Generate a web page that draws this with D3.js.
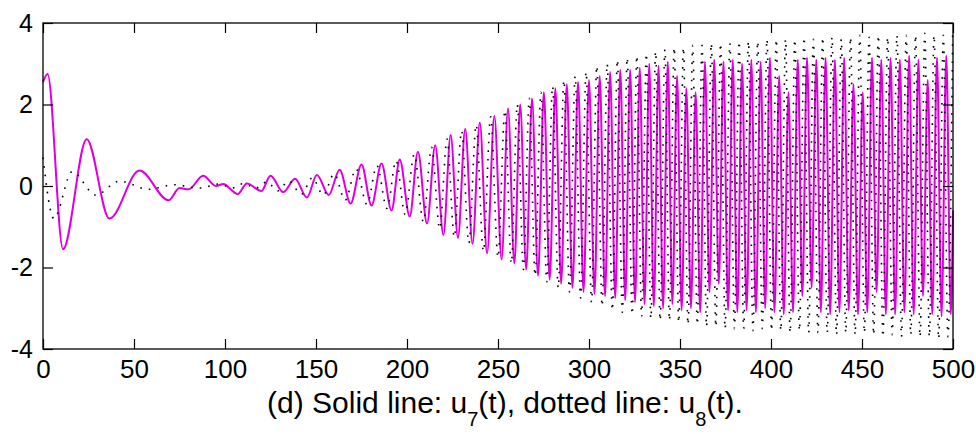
<!DOCTYPE html>
<html>
<head>
<meta charset="utf-8">
<script src="https://cdn.jsdelivr.net/npm/d3@7"></script>
<style>
  body { margin: 0; background: #fff; }
  svg { display: block; }
</style>
</head>
<body>
<svg width="976" height="434"></svg>
<script>
// extrema [t, value], solid line u7(t)
const u7Points = [
  [0, 2.55], [2.5, 2.75], [11, -1.55], [24, 1.15], [36.5, -0.8], [53, 0.38], [69, -0.35], [75, -0.05],
  [80, -0.08], [88, 0.25], [95, 0.0], [99, 0.05], [107, -0.2], [112, 0.06], [120, -0.12], [125, 0.25],
  [132, -0.15], [138.5, 0.18], [145, -0.28], [150.5, 0.27], [157, -0.22], [163, 0.4], [169, -0.43], [175, 0.53],
  [180.5, -0.48], [186, 0.55], [191.5, -0.6], [196, 0.65], [201.5, -0.75], [206, 0.84], [211, -0.92], [215.5, 1.0],
  [220, -1.2], [224, 1.25], [228, -1.27], [232, 1.4], [236, -1.42], [240, 1.55], [244, -1.65], [248, 1.72],
  [252, -1.8], [255.5, 1.9], [259, -1.9], [262.2, 2.0], [265.5, -2.05], [268.7, 2.15], [272, -2.2], [275.2, 2.3],
  [278.4, -2.3], [281.5, 2.4], [284.7, -2.4], [287.8, 2.5], [290.9, -2.5], [294, 2.55], [297, -2.6], [300, 2.6],
  [303, -2.65], [305.9, 2.7], [308.8, -2.7], [311.6, 2.8], [314.4, -2.75], [317.2, 2.85], [319.9, -2.8], [322.6, 2.85],
  [325.3, -2.85], [327.9, 2.9], [330.5, -2.9], [333.1, 3.0], [335.6, -2.95], [338.2, 2.95], [340.7, -3.0], [343.3, 3.05],
  [345.8, -2.9], [348.4, 2.7], [350.9, -3.05], [353.5, 2.4], [356.0, -3.0], [358.6, 2.3], [361.1, -3.1], [363.7, 3.05],
  [366.2, -2.6], [368.8, 3.1], [371.3, -2.4], [373.9, 3.05], [376.4, -3.05], [379.0, 3.1], [381.5, -3.1], [384.1, 3.0],
  [386.6, -3.05], [389.2, 3.1], [391.7, -3.1], [394.3, 3.05], [396.8, -3.0], [399.4, 3.15], [401.9, -3.1], [404.5, 2.7],
  [407.0, -3.15], [409.6, 2.3], [412.1, -3.1], [414.7, 3.1], [417.2, -2.7], [419.8, 3.15], [422.3, -2.5], [424.9, 3.1],
  [427.4, -3.1], [430.0, 3.15], [432.5, -3.15], [435.1, 3.1], [437.6, -3.1], [440.2, 3.15], [442.7, -3.05], [445.3, 2.5],
  [447.8, -3.15], [450.4, 2.3], [452.9, -3.1], [455.5, 3.15], [458.0, -2.6], [460.6, 3.1], [463.1, -3.15], [465.7, 3.15],
  [468.2, -3.15], [470.8, 3.1], [473.3, -3.1], [475.9, 3.2], [478.4, -3.15], [481.0, 3.1], [483.5, -2.7], [486.1, 2.6],
  [488.6, -3.15], [491.2, 3.15], [493.7, -3.2], [496.3, 3.2], [498.8, -3.15], [500, -0.6]
];

// dotted line u8(t)
const u8Points = [
  [0, 0.7], [6, -0.8], [16, 0.35], [29, -0.22], [42, 0.12], [58, -0.08], [72, 0.03], [86, -0.05],
  [97, 0.05], [104, -0.05], [110, 0.06], [117, -0.05], [123, 0.1], [129, -0.12], [135, 0.12], [142, -0.2],
  [148, 0.2], [154, -0.22], [160, 0.3], [166, -0.35], [172, 0.42], [178, -0.45], [183.5, 0.5], [189, -0.55],
  [194, 0.62], [199, -0.7], [204, 0.78], [209, -0.88], [213.5, 0.95], [218, -1.05], [222, 1.15], [226, -1.25],
  [230, 1.35], [234, -1.4], [238, 1.5], [242, -1.6], [246, 1.7], [250, -1.75], [253.8, 1.85], [257.3, -1.9],
  [260.6, 2.0], [264, -2.05], [267.2, 2.15], [270.4, -2.2], [273.6, 2.3], [276.8, -2.35], [280, 2.45], [283.1, -2.5],
  [286.2, 2.6], [289.3, -2.6], [292.4, 2.7], [295.4, -2.75], [298.4, 2.8], [301.4, -2.85], [304.3, 2.95], [307.2, -2.95],
  [310.0, 3.0], [312.8, -3.05], [315.6, 3.1], [318.3, -3.1], [321.0, 3.15], [323.7, -3.15], [326.3, 3.2], [328.9, -3.2],
  [331.5, 3.25], [334.0, -3.25], [336.6, 3.3], [339.1, -3.3], [341.7, 3.35], [344.2, -3.3], [346.8, 3.4], [349.3, -3.35],
  [351.9, 3.4], [354.4, -3.4], [357.0, 3.45], [359.5, -3.4], [362.1, 3.45], [364.6, -3.45], [367.2, 3.5], [369.7, -3.45],
  [372.3, 3.5], [374.8, -3.5], [377.4, 3.5], [379.9, -3.5], [382.5, 3.55], [385.0, -3.5], [387.6, 3.55], [390.1, -3.55],
  [392.7, 3.55], [395.2, -3.5], [397.8, 3.6], [400.3, -3.55], [402.9, 3.6], [405.4, -3.55], [408.0, 3.6], [410.5, -3.6],
  [413.1, 3.6], [415.6, -3.55], [418.2, 3.65], [420.7, -3.6], [423.3, 3.6], [425.8, -3.6], [428.4, 3.65], [430.9, -3.6],
  [433.5, 3.65], [436.0, -3.65], [438.6, 3.6], [441.1, -3.6], [443.7, 3.65], [446.2, -3.65], [448.8, 3.7], [451.3, -3.6],
  [453.9, 3.65], [456.4, -3.65], [459.0, 3.7], [461.5, -3.7], [464.1, 3.65], [466.6, -3.65], [469.2, 3.7], [471.7, -3.7],
  [474.3, 3.7], [476.8, -3.65], [479.4, 3.7], [481.9, -3.7], [484.5, 3.75], [487.0, -3.7], [489.6, 3.7], [492.1, -3.75],
  [494.7, 3.7], [497.2, -3.7], [499.8, 3.7]
];

const xTicks = [0, 50, 100, 150, 200, 250, 300, 350, 400, 450, 500];
const yTicks = [-4, -2, 0, 2, 4];

const svg = d3.select('svg');
const width = +svg.attr('width');
const height = +svg.attr('height');

const margin = { top: 23, right: 23, bottom: 85, left: 43 };
const innerWidth = width - margin.left - margin.right;
const innerHeight = height - margin.top - margin.bottom;

const xScale = d3.scaleLinear().domain([0, 500]).range([0, innerWidth]);
const yScale = d3.scaleLinear().domain([-4, 4]).range([innerHeight, 0]);

const g = svg.append('g')
  .attr('transform', `translate(${margin.left}, ${margin.top})`);

const line = d3.line()
  .x(d => xScale(d[0]))
  .y(d => yScale(d[1]))
  .curve(d3.curveMonotoneX);

g.append('path')
  .datum(u7Points)
  .attr('fill', 'none')
  .attr('stroke', '#dd00dd')
  .attr('stroke-width', 2)
  .attr('d', line);

g.append('path')
  .datum(u8Points)
  .attr('fill', 'none')
  .attr('stroke', '#000')
  .attr('stroke-width', 1.6)
  .attr('stroke-dasharray', '1.6,7')
  .attr('d', line);

// axes, ticks pointing inward on all four sides
g.append('g')
  .attr('transform', `translate(0, ${innerHeight})`)
  .call(d3.axisBottom(xScale).tickValues(xTicks).tickSizeInner(-10).tickSizeOuter(0)
    .tickPadding(11).tickFormat(d => String(d)))
  .attr('font-family', 'Liberation Sans, Arial, sans-serif')
  .attr('font-size', 26);

g.append('g')
  .call(d3.axisLeft(yScale).tickValues(yTicks).tickSizeInner(-10).tickSizeOuter(0)
    .tickPadding(10).tickFormat(d => String(d)))
  .attr('font-family', 'Liberation Sans, Arial, sans-serif')
  .attr('font-size', 25);

g.append('g')
  .call(d3.axisTop(xScale).tickValues(xTicks).tickSizeInner(-10).tickSizeOuter(0).tickFormat(''));
g.append('g')
  .attr('transform', `translate(${innerWidth}, 0)`)
  .call(d3.axisRight(yScale).tickValues(yTicks).tickSizeInner(-10).tickSizeOuter(0).tickFormat(''));

g.selectAll('.domain').remove();
g.selectAll('.tick line').attr('stroke', '#000').attr('stroke-width', 1.2);

g.append('rect')
  .attr('width', innerWidth)
  .attr('height', innerHeight)
  .attr('fill', 'none')
  .attr('stroke', '#000')
  .attr('stroke-width', 1.3);

// caption
const caption = svg.append('text')
  .attr('x', 505)
  .attr('y', 413)
  .attr('text-anchor', 'middle')
  .attr('font-family', 'Liberation Sans, Arial, sans-serif')
  .attr('font-size', 30);
caption.append('tspan').text('(d) Solid line: u');
caption.append('tspan').attr('dy', 13).attr('font-size', 20).text('7');
caption.append('tspan').attr('dy', -13).text('(t), dotted line: u');
caption.append('tspan').attr('dy', 13).attr('font-size', 20).text('8');
caption.append('tspan').attr('dy', -13).text('(t).');
</script>
</body>
</html>
